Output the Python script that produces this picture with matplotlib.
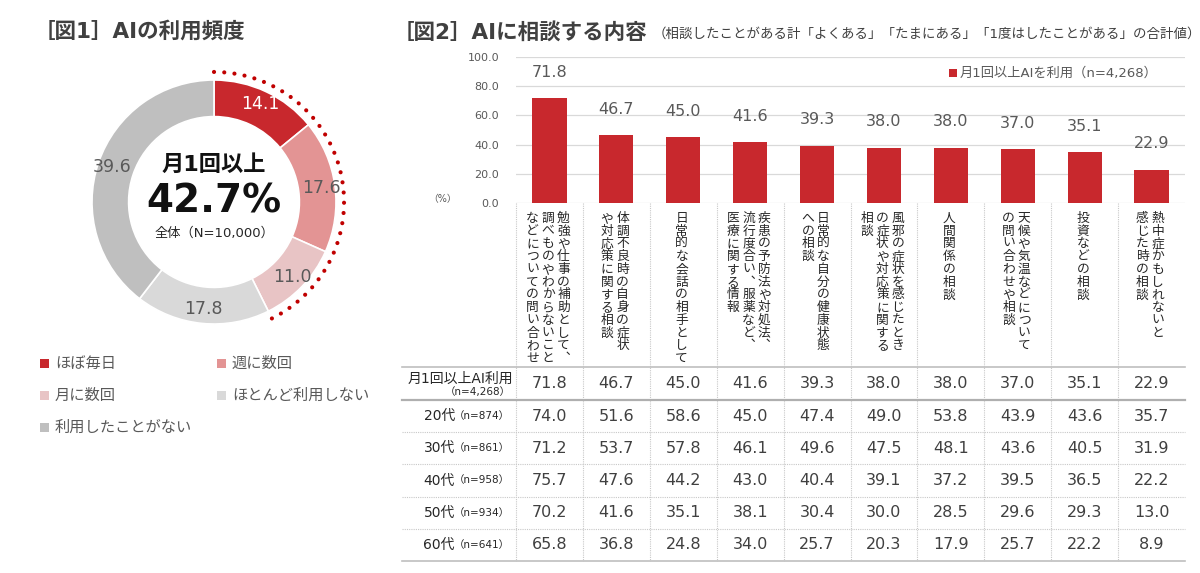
import numpy as np
import matplotlib.pyplot as plt
from matplotlib.patches import Rectangle

plt.rcParams['font.family'] = ['DejaVu Sans', 'Noto Sans CJK JP']

# --- data ---
freq_labels = ['ほぼ毎日', '週に数回', '月に数回', 'ほとんど利用しない', '利用したことがない']
freq_values = [14.1, 17.6, 11.0, 17.8, 39.6]
freq_colors = ['#C8282D', '#E39494', '#E8C4C5', '#D9D9D9', '#BFBFBF']

topic_lines = [
    ['勉強や仕事の補助として、', '調べものやわからないこと', 'などについての問い合わせ'],
    ['体調不良時の自身の症状', 'や対応策に関する相談'],
    ['日常的な会話の相手として'],
    ['疾患の予防法や対処法、', '流行度合い、服薬など、', '医療に関する情報'],
    ['日常的な自分の健康状態', 'への相談'],
    ['風邪の症状を感じたとき', 'の症状や対応策に関する', '相談'],
    ['人間関係の相談'],
    ['天候や気温などについて', 'の問い合わせや相談'],
    ['投資などの相談'],
    ['熱中症かもしれないと', '感じた時の相談'],
]
all_users = [71.8, 46.7, 45.0, 41.6, 39.3, 38.0, 38.0, 37.0, 35.1, 22.9]
age_groups = ['20代', '30代', '40代', '50代', '60代']
age_n = ['n=874', 'n=861', 'n=958', 'n=934', 'n=641']
age_20 = [74.0, 51.6, 58.6, 45.0, 47.4, 49.0, 53.8, 43.9, 43.6, 35.7]
age_30 = [71.2, 53.7, 57.8, 46.1, 49.6, 47.5, 48.1, 43.6, 40.5, 31.9]
age_40 = [75.7, 47.6, 44.2, 43.0, 40.4, 39.1, 37.2, 39.5, 36.5, 22.2]
age_50 = [70.2, 41.6, 35.1, 38.1, 30.4, 30.0, 28.5, 29.6, 29.3, 13.0]
age_60 = [65.8, 36.8, 24.8, 34.0, 25.7, 20.3, 17.9, 25.7, 22.2, 8.9]
series_name = '月1回以上AIを利用（n=4,268）'
total_n = 'N=10,000'
users_n = 'n=4,268'

RED = '#C8282D'
GRAY = '#595959'
DARK = '#404040'

# vertical-writing forms of punctuation
VERT = {'、': '︑', '。': '︒'}

W, H = 1200, 573
fig = plt.figure(figsize=(12, 5.73), dpi=100)

# overlay in pixel coordinates (y down)
ov = fig.add_axes([0, 0, 1, 1])
ov.set_xlim(0, W)
ov.set_ylim(H, 0)
ov.axis('off')


def to_ov(ax, x, y):
    dx, dy = ax.transData.transform((x, y))
    return dx, H - dy


# titles
ov.text(34, 31, '［図1］AIの利用頻度', fontsize=15.5, weight='bold', color=DARK, va='center')
ov.text(393, 32, '［図2］AIに相談する内容', fontsize=15.5, weight='bold', color=DARK, va='center')
ov.text(653, 34, '（相談したことがある計「よくある」「たまにある」「1度はしたことがある」の合計値）',
        fontsize=9.7, color=DARK, va='center')

# ---- donut ----
cx0, cy0, R = 214, 202, 122
half = 1.2 * R
ax_pie = fig.add_axes([(cx0 - half) / W, (H - cy0 - half) / H, 2 * half / W, 2 * half / H])
wedges, _ = ax_pie.pie(freq_values, colors=freq_colors, startangle=90, counterclock=False,
                       radius=1, wedgeprops=dict(width=0.3, edgecolor='white', linewidth=1.2))
ax_pie.set_xlim(-1.2, 1.2)
ax_pie.set_ylim(-1.2, 1.2)
ax_pie.set_aspect('equal')
ax_pie.axis('off')

for i, (w, v) in enumerate(zip(wedges, freq_values)):
    a = np.deg2rad((w.theta1 + w.theta2) / 2)
    ax_pie.text(0.885 * np.cos(a), 0.885 * np.sin(a), f'{v:.1f}', ha='center', va='center',
                fontsize=12.5, color='white' if i == 0 else GRAY)

# dotted arc over the monthly-user wedges
t = np.linspace(np.deg2rad(wedges[0].theta2), np.deg2rad(wedges[2].theta1), 300)
ax_pie.plot(1.066 * np.cos(t), 1.066 * np.sin(t), color='#C00000', lw=3.0,
            linestyle=(0, (0.01, 2.45)), dash_capstyle='round')

monthly = sum(freq_values[:3])
ax_pie.text(0, 0.31, '月1回以上', ha='center', va='center', fontsize=16, weight='bold', color='#111111')
ax_pie.text(0, -0.09, f'{monthly:.1f}%', ha='center', va='baseline', fontsize=28, weight='bold',
            color='#111111')
ax_pie.text(0, -0.255, f'全体（{total_n}）', ha='center', va='center', fontsize=9.5, color='#262626')

# donut legend
for i, (lab, col) in enumerate(zip(freq_labels, freq_colors)):
    r, c = divmod(i, 2)
    x0 = 40 + c * 177
    y0 = 363 + r * 32
    ov.add_patch(Rectangle((x0, y0 - 4.5), 9, 9, color=col, lw=0))
    ov.text(x0 + 15, y0, lab, fontsize=11, color=GRAY, va='center')

# ---- bar chart ----
left, right, top, base = 516, 1185, 57, 203
ax_bar = fig.add_axes([left / W, (H - base) / H, (right - left) / W, (base - top) / H])
x = np.arange(len(all_users))
ax_bar.bar(x, all_users, width=0.51, color=RED, zorder=3)
ax_bar.set_xlim(-0.5, len(x) - 0.5)
ax_bar.set_ylim(0, 100)
ax_bar.set_yticks(np.arange(0, 101, 20))
ax_bar.set_yticklabels([f'{v:.1f}' for v in np.arange(0, 101, 20)], fontsize=8, color=GRAY)
ax_bar.set_xticks([])
ax_bar.tick_params(axis='y', length=0, pad=12)
ax_bar.grid(axis='y', color='#D9D9D9', lw=0.9)
ax_bar.set_axisbelow(True)
for s in ax_bar.spines.values():
    s.set_visible(False)
ax_bar.patch.set_alpha(0)
for xi, v in zip(x, all_users):
    ax_bar.annotate(f'{v:.1f}', (xi, v), xytext=(0, 18.5), textcoords='offset points',
                    ha='center', va='center', fontsize=11.5, color=GRAY)

ov.text(443, 199, '（%）', fontsize=7, color=GRAY, ha='center', va='center')
ov.add_patch(Rectangle((949, 69), 8, 8, color=RED, lw=0))
ov.text(960, 73, series_name, fontsize=9.5, color=GRAY, va='center')

# vertical category labels (top-to-bottom, lines right-to-left)
step = 12.75
for i, lines in enumerate(topic_lines):
    cx, _ = to_ov(ax_bar, i, 0)
    n = len(lines)
    for j, line in enumerate(lines):
        lx = cx - 1.5 + ((n - 1) / 2 - j) * 15.5
        for k, ch in enumerate(line):
            ov.text(lx, 212 + k * step + step / 2, VERT.get(ch, ch), ha='center', va='center',
                    fontsize=9.2, color='#262626', family=['Noto Sans CJK JP'])

# column separators
for i in range(len(x)):
    sx, _ = to_ov(ax_bar, i - 0.5, 0)
    ov.plot([sx, sx], [base, 561], color='#C8C8C8', lw=0.8, linestyle=(0, (1, 1)))

# ---- table ----
rows = [all_users, age_20, age_30, age_40, age_50, age_60]
line_y = [367, 400] + [400 + 32.2 * k for k in range(1, 6)]
for k, ly in enumerate(line_y):
    if k in (0, len(line_y) - 1):
        ov.plot([402, right], [ly, ly], color='#BFBFBF', lw=1.2)
    elif k == 1:
        ov.plot([402, right], [ly, ly], color='#AFAFAF', lw=1.6)
    else:
        ov.plot([402, right], [ly, ly], color='#C8C8C8', lw=0.8, linestyle=(0, (1, 1)))

for r, vals in enumerate(rows):
    cy = (line_y[r] + line_y[r + 1]) / 2
    if r == 0:
        ov.text(513, cy - 5, '月1回以上AI利用', fontsize=10, color='#262626', ha='right', va='center')
        ov.text(511, cy + 9, f'（{users_n}）', fontsize=7.5, color='#262626', ha='right', va='center')
    else:
        ov.text(455, cy, age_groups[r - 1], fontsize=10, color='#262626', ha='right', va='center')
        ov.text(510, cy, f'（{age_n[r - 1]}）', fontsize=7.5, color='#262626', ha='right', va='center')
    for i, v in enumerate(vals):
        cx, _ = to_ov(ax_bar, i, 0)
        ov.text(cx, cy, f'{v:.1f}', fontsize=11.5, color=DARK, ha='center', va='center')

fig.savefig('out.png', dpi=100)
